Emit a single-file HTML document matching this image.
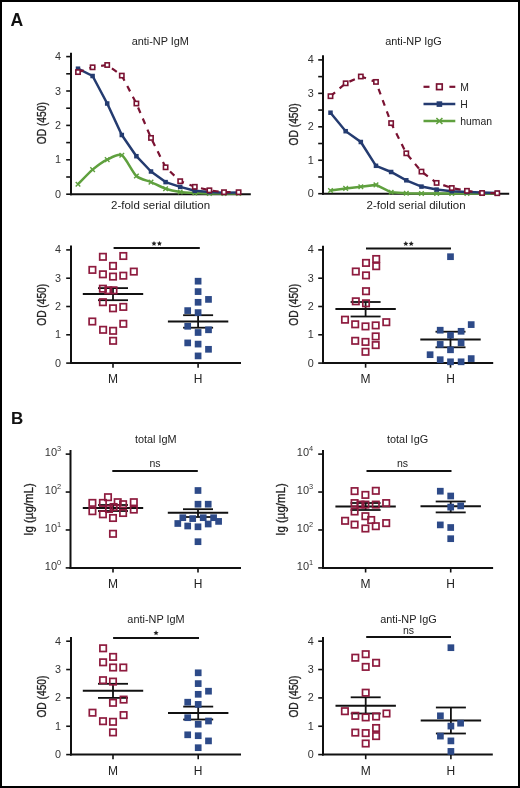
<!DOCTYPE html>
<html><head><meta charset="utf-8"><style>
html,body{margin:0;padding:0;background:#fff;}
body{width:520px;height:788px;overflow:hidden;position:relative;}
svg{display:block;filter:blur(0.35px);}
#bd{position:absolute;left:0;top:0;width:516px;height:784px;border:2px solid #000;}
text{font-family:"Liberation Sans", sans-serif;}
</style></head><body>
<svg width="520" height="788" viewBox="0 0 520 788" font-family="Liberation Sans, sans-serif">
<rect x="0" y="0" width="520" height="788" fill="#fff"/>
<text x="10.40" y="25.80" font-size="17.6" text-anchor="start" font-weight="bold" fill="#111" >A</text>
<text x="11.00" y="423.70" font-size="17" text-anchor="start" font-weight="bold" fill="#111" >B</text>
<line x1="71.00" y1="52.80" x2="71.00" y2="195.20" stroke="#111" stroke-width="2" />
<line x1="66.20" y1="194.20" x2="71.00" y2="194.20" stroke="#111" stroke-width="1.6" />
<text x="61.10" y="197.70" font-size="10.8" text-anchor="end" font-weight="normal" fill="#333" >0</text>
<line x1="66.20" y1="177.00" x2="71.00" y2="177.00" stroke="#111" stroke-width="1.6" />
<line x1="66.20" y1="159.80" x2="71.00" y2="159.80" stroke="#111" stroke-width="1.6" />
<text x="61.10" y="163.30" font-size="10.8" text-anchor="end" font-weight="normal" fill="#333" >1</text>
<line x1="66.20" y1="142.60" x2="71.00" y2="142.60" stroke="#111" stroke-width="1.6" />
<line x1="66.20" y1="125.40" x2="71.00" y2="125.40" stroke="#111" stroke-width="1.6" />
<text x="61.10" y="128.90" font-size="10.8" text-anchor="end" font-weight="normal" fill="#333" >2</text>
<line x1="66.20" y1="108.20" x2="71.00" y2="108.20" stroke="#111" stroke-width="1.6" />
<line x1="66.20" y1="91.00" x2="71.00" y2="91.00" stroke="#111" stroke-width="1.6" />
<text x="61.10" y="94.50" font-size="10.8" text-anchor="end" font-weight="normal" fill="#333" >3</text>
<line x1="66.20" y1="73.80" x2="71.00" y2="73.80" stroke="#111" stroke-width="1.6" />
<line x1="66.20" y1="56.60" x2="71.00" y2="56.60" stroke="#111" stroke-width="1.6" />
<text x="61.10" y="60.10" font-size="10.8" text-anchor="end" font-weight="normal" fill="#333" >4</text>
<line x1="70.00" y1="194.20" x2="250.80" y2="194.20" stroke="#111" stroke-width="2" />
<text x="160.30" y="45.20" font-size="10.9" text-anchor="middle" font-weight="normal" fill="#222" >anti-NP IgM</text>
<text x="160.60" y="208.70" font-size="11.5" text-anchor="middle" font-weight="normal" fill="#222" >2-fold serial dilution</text>
<text x="0" y="0" font-size="12.3" text-anchor="middle" fill="#222" stroke="#222" stroke-width="0.3" textLength="42" lengthAdjust="spacingAndGlyphs" transform="translate(45.90,123.20) rotate(-90)">OD (450)</text>
<path d="M78.00,184.20C79.70,182.50 89.19,172.47 92.60,169.60C96.01,166.73 103.79,161.28 107.20,159.60C110.61,157.92 118.39,153.29 121.80,155.20C125.21,157.11 132.99,172.86 136.40,176.00C139.81,179.14 147.59,180.61 151.00,182.10C154.41,183.59 162.19,187.65 165.60,188.80C169.01,189.96 176.79,191.51 180.20,192.00C183.61,192.49 191.39,192.84 194.80,193.00C198.21,193.16 205.99,193.34 209.40,193.40C212.81,193.46 220.59,193.49 224.00,193.50C227.41,193.51 236.90,193.50 238.60,193.50" stroke="#5FA03E" stroke-width="2.5" fill="none" stroke-linejoin="round"/>
<path d="M75.70,181.90L80.30,186.50M75.70,186.50L80.30,181.90" stroke="#5FA03E" stroke-width="1.4" fill="none"/>
<path d="M90.30,167.30L94.90,171.90M90.30,171.90L94.90,167.30" stroke="#5FA03E" stroke-width="1.4" fill="none"/>
<path d="M104.90,157.30L109.50,161.90M104.90,161.90L109.50,157.30" stroke="#5FA03E" stroke-width="1.4" fill="none"/>
<path d="M119.50,152.90L124.10,157.50M119.50,157.50L124.10,152.90" stroke="#5FA03E" stroke-width="1.4" fill="none"/>
<path d="M134.10,173.70L138.70,178.30M134.10,178.30L138.70,173.70" stroke="#5FA03E" stroke-width="1.4" fill="none"/>
<path d="M148.70,179.80L153.30,184.40M148.70,184.40L153.30,179.80" stroke="#5FA03E" stroke-width="1.4" fill="none"/>
<path d="M163.30,186.50L167.90,191.10M163.30,191.10L167.90,186.50" stroke="#5FA03E" stroke-width="1.4" fill="none"/>
<path d="M177.90,189.70L182.50,194.30M177.90,194.30L182.50,189.70" stroke="#5FA03E" stroke-width="1.4" fill="none"/>
<path d="M192.50,190.70L197.10,195.30M192.50,195.30L197.10,190.70" stroke="#5FA03E" stroke-width="1.4" fill="none"/>
<path d="M207.10,191.10L211.70,195.70M207.10,195.70L211.70,191.10" stroke="#5FA03E" stroke-width="1.4" fill="none"/>
<path d="M221.70,191.20L226.30,195.80M221.70,195.80L226.30,191.20" stroke="#5FA03E" stroke-width="1.4" fill="none"/>
<path d="M236.30,191.20L240.90,195.80M236.30,195.80L240.90,191.20" stroke="#5FA03E" stroke-width="1.4" fill="none"/>
<path d="M78.00,68.70L92.60,76.00L107.20,103.50L121.80,135.00L136.40,156.20L151.00,171.50L165.60,182.10L180.20,186.90L194.80,190.80L209.40,192.00L224.00,192.80L238.60,192.60" stroke="#243B70" stroke-width="2.5" fill="none" stroke-linejoin="round"/>
<rect x="75.75" y="66.45" width="4.50" height="4.50" fill="#243B70"/>
<rect x="90.35" y="73.75" width="4.50" height="4.50" fill="#243B70"/>
<rect x="104.95" y="101.25" width="4.50" height="4.50" fill="#243B70"/>
<rect x="119.55" y="132.75" width="4.50" height="4.50" fill="#243B70"/>
<rect x="134.15" y="153.95" width="4.50" height="4.50" fill="#243B70"/>
<rect x="148.75" y="169.25" width="4.50" height="4.50" fill="#243B70"/>
<rect x="163.35" y="179.85" width="4.50" height="4.50" fill="#243B70"/>
<rect x="177.95" y="184.65" width="4.50" height="4.50" fill="#243B70"/>
<rect x="192.55" y="188.55" width="4.50" height="4.50" fill="#243B70"/>
<rect x="207.15" y="189.75" width="4.50" height="4.50" fill="#243B70"/>
<rect x="221.75" y="190.55" width="4.50" height="4.50" fill="#243B70"/>
<rect x="236.35" y="190.35" width="4.50" height="4.50" fill="#243B70"/>
<path d="M78.00,72.10L92.60,67.30L107.20,65.00L121.80,75.60L136.40,103.50L151.00,137.90L165.60,167.30L180.20,181.20L194.80,186.80L209.40,190.30L224.00,192.20L238.60,192.20" stroke="#7A1232" stroke-width="2.2" fill="none" stroke-dasharray="6 6"/>
<rect x="75.85" y="69.95" width="4.30" height="4.30" fill="#fff" stroke="#7A1232" stroke-width="1.6"/>
<rect x="90.45" y="65.15" width="4.30" height="4.30" fill="#fff" stroke="#7A1232" stroke-width="1.6"/>
<rect x="105.05" y="62.85" width="4.30" height="4.30" fill="#fff" stroke="#7A1232" stroke-width="1.6"/>
<rect x="119.65" y="73.45" width="4.30" height="4.30" fill="#fff" stroke="#7A1232" stroke-width="1.6"/>
<rect x="134.25" y="101.35" width="4.30" height="4.30" fill="#fff" stroke="#7A1232" stroke-width="1.6"/>
<rect x="148.85" y="135.75" width="4.30" height="4.30" fill="#fff" stroke="#7A1232" stroke-width="1.6"/>
<rect x="163.45" y="165.15" width="4.30" height="4.30" fill="#fff" stroke="#7A1232" stroke-width="1.6"/>
<rect x="178.05" y="179.05" width="4.30" height="4.30" fill="#fff" stroke="#7A1232" stroke-width="1.6"/>
<rect x="192.65" y="184.65" width="4.30" height="4.30" fill="#fff" stroke="#7A1232" stroke-width="1.6"/>
<rect x="207.25" y="188.15" width="4.30" height="4.30" fill="#fff" stroke="#7A1232" stroke-width="1.6"/>
<rect x="221.85" y="190.05" width="4.30" height="4.30" fill="#fff" stroke="#7A1232" stroke-width="1.6"/>
<rect x="236.45" y="190.05" width="4.30" height="4.30" fill="#fff" stroke="#7A1232" stroke-width="1.6"/>
<line x1="323.00" y1="55.30" x2="323.00" y2="194.70" stroke="#111" stroke-width="2" />
<line x1="318.20" y1="193.70" x2="323.00" y2="193.70" stroke="#111" stroke-width="1.6" />
<text x="313.80" y="197.20" font-size="10.8" text-anchor="end" font-weight="normal" fill="#333" >0</text>
<line x1="318.20" y1="176.97" x2="323.00" y2="176.97" stroke="#111" stroke-width="1.6" />
<line x1="318.20" y1="160.25" x2="323.00" y2="160.25" stroke="#111" stroke-width="1.6" />
<text x="313.80" y="163.75" font-size="10.8" text-anchor="end" font-weight="normal" fill="#333" >1</text>
<line x1="318.20" y1="143.52" x2="323.00" y2="143.52" stroke="#111" stroke-width="1.6" />
<line x1="318.20" y1="126.80" x2="323.00" y2="126.80" stroke="#111" stroke-width="1.6" />
<text x="313.80" y="130.30" font-size="10.8" text-anchor="end" font-weight="normal" fill="#333" >2</text>
<line x1="318.20" y1="110.07" x2="323.00" y2="110.07" stroke="#111" stroke-width="1.6" />
<line x1="318.20" y1="93.35" x2="323.00" y2="93.35" stroke="#111" stroke-width="1.6" />
<text x="313.80" y="96.85" font-size="10.8" text-anchor="end" font-weight="normal" fill="#333" >3</text>
<line x1="318.20" y1="76.62" x2="323.00" y2="76.62" stroke="#111" stroke-width="1.6" />
<line x1="318.20" y1="59.90" x2="323.00" y2="59.90" stroke="#111" stroke-width="1.6" />
<text x="313.80" y="63.40" font-size="10.8" text-anchor="end" font-weight="normal" fill="#333" >4</text>
<line x1="322.00" y1="193.70" x2="509.20" y2="193.70" stroke="#111" stroke-width="2" />
<text x="413.50" y="45.20" font-size="10.9" text-anchor="middle" font-weight="normal" fill="#222" >anti-NP IgG</text>
<text x="416.10" y="208.70" font-size="11.5" text-anchor="middle" font-weight="normal" fill="#222" >2-fold serial dilution</text>
<text x="0" y="0" font-size="12.3" text-anchor="middle" fill="#222" stroke="#222" stroke-width="0.3" textLength="42" lengthAdjust="spacingAndGlyphs" transform="translate(297.60,124.40) rotate(-90)">OD (450)</text>
<path d="M330.50,190.50L345.66,188.40L360.82,186.80L375.98,184.90L391.14,192.30L406.30,193.30L421.46,193.50L436.62,193.50L451.78,193.50L466.94,193.50L482.10,193.50L497.26,193.50" stroke="#5FA03E" stroke-width="2.5" fill="none"/>
<path d="M328.20,188.20L332.80,192.80M328.20,192.80L332.80,188.20" stroke="#5FA03E" stroke-width="1.4" fill="none"/>
<path d="M343.36,186.10L347.96,190.70M343.36,190.70L347.96,186.10" stroke="#5FA03E" stroke-width="1.4" fill="none"/>
<path d="M358.52,184.50L363.12,189.10M358.52,189.10L363.12,184.50" stroke="#5FA03E" stroke-width="1.4" fill="none"/>
<path d="M373.68,182.60L378.28,187.20M373.68,187.20L378.28,182.60" stroke="#5FA03E" stroke-width="1.4" fill="none"/>
<path d="M388.84,190.00L393.44,194.60M388.84,194.60L393.44,190.00" stroke="#5FA03E" stroke-width="1.4" fill="none"/>
<path d="M404.00,191.00L408.60,195.60M404.00,195.60L408.60,191.00" stroke="#5FA03E" stroke-width="1.4" fill="none"/>
<path d="M419.16,191.20L423.76,195.80M419.16,195.80L423.76,191.20" stroke="#5FA03E" stroke-width="1.4" fill="none"/>
<path d="M434.32,191.20L438.92,195.80M434.32,195.80L438.92,191.20" stroke="#5FA03E" stroke-width="1.4" fill="none"/>
<path d="M449.48,191.20L454.08,195.80M449.48,195.80L454.08,191.20" stroke="#5FA03E" stroke-width="1.4" fill="none"/>
<path d="M464.64,191.20L469.24,195.80M464.64,195.80L469.24,191.20" stroke="#5FA03E" stroke-width="1.4" fill="none"/>
<path d="M479.80,191.20L484.40,195.80M479.80,195.80L484.40,191.20" stroke="#5FA03E" stroke-width="1.4" fill="none"/>
<path d="M494.96,191.20L499.56,195.80M494.96,195.80L499.56,191.20" stroke="#5FA03E" stroke-width="1.4" fill="none"/>
<path d="M330.50,112.70L345.66,131.20L360.82,142.00L375.98,165.80L391.14,172.00L406.30,180.30L421.46,186.60L436.62,189.60L451.78,191.20L466.94,192.00L482.10,192.50L497.26,192.90" stroke="#243B70" stroke-width="2.5" fill="none"/>
<rect x="328.25" y="110.45" width="4.50" height="4.50" fill="#243B70"/>
<rect x="343.41" y="128.95" width="4.50" height="4.50" fill="#243B70"/>
<rect x="358.57" y="139.75" width="4.50" height="4.50" fill="#243B70"/>
<rect x="373.73" y="163.55" width="4.50" height="4.50" fill="#243B70"/>
<rect x="388.89" y="169.75" width="4.50" height="4.50" fill="#243B70"/>
<rect x="404.05" y="178.05" width="4.50" height="4.50" fill="#243B70"/>
<rect x="419.21" y="184.35" width="4.50" height="4.50" fill="#243B70"/>
<rect x="434.37" y="187.35" width="4.50" height="4.50" fill="#243B70"/>
<rect x="449.53" y="188.95" width="4.50" height="4.50" fill="#243B70"/>
<rect x="464.69" y="189.75" width="4.50" height="4.50" fill="#243B70"/>
<rect x="479.85" y="190.25" width="4.50" height="4.50" fill="#243B70"/>
<rect x="495.01" y="190.65" width="4.50" height="4.50" fill="#243B70"/>
<path d="M330.50,96.20L345.66,83.30L360.82,76.50L375.98,81.90L391.14,123.10L406.30,153.30L421.46,171.60L436.62,182.90L451.78,188.00L466.94,190.80L482.10,193.00L497.26,193.20" stroke="#7A1232" stroke-width="2.2" fill="none" stroke-dasharray="6 6"/>
<rect x="328.35" y="94.05" width="4.30" height="4.30" fill="#fff" stroke="#7A1232" stroke-width="1.6"/>
<rect x="343.51" y="81.15" width="4.30" height="4.30" fill="#fff" stroke="#7A1232" stroke-width="1.6"/>
<rect x="358.67" y="74.35" width="4.30" height="4.30" fill="#fff" stroke="#7A1232" stroke-width="1.6"/>
<rect x="373.83" y="79.75" width="4.30" height="4.30" fill="#fff" stroke="#7A1232" stroke-width="1.6"/>
<rect x="388.99" y="120.95" width="4.30" height="4.30" fill="#fff" stroke="#7A1232" stroke-width="1.6"/>
<rect x="404.15" y="151.15" width="4.30" height="4.30" fill="#fff" stroke="#7A1232" stroke-width="1.6"/>
<rect x="419.31" y="169.45" width="4.30" height="4.30" fill="#fff" stroke="#7A1232" stroke-width="1.6"/>
<rect x="434.47" y="180.75" width="4.30" height="4.30" fill="#fff" stroke="#7A1232" stroke-width="1.6"/>
<rect x="449.63" y="185.85" width="4.30" height="4.30" fill="#fff" stroke="#7A1232" stroke-width="1.6"/>
<rect x="464.79" y="188.65" width="4.30" height="4.30" fill="#fff" stroke="#7A1232" stroke-width="1.6"/>
<rect x="479.95" y="190.85" width="4.30" height="4.30" fill="#fff" stroke="#7A1232" stroke-width="1.6"/>
<rect x="495.11" y="191.05" width="4.30" height="4.30" fill="#fff" stroke="#7A1232" stroke-width="1.6"/>
<line x1="423.50" y1="86.80" x2="429.50" y2="86.80" stroke="#7A1232" stroke-width="2.2" />
<line x1="449.40" y1="86.80" x2="455.30" y2="86.80" stroke="#7A1232" stroke-width="2.2" />
<rect x="436.60" y="84.00" width="5.60" height="5.60" fill="#fff" stroke="#7A1232" stroke-width="1.7"/>
<text x="460.20" y="90.60" font-size="10.4" text-anchor="start" font-weight="normal" fill="#222" >M</text>
<line x1="423.50" y1="104.10" x2="455.30" y2="104.10" stroke="#243B70" stroke-width="2.5" />
<rect x="436.60" y="101.30" width="5.60" height="5.60" fill="#243B70"/>
<text x="460.20" y="108.00" font-size="10.4" text-anchor="start" font-weight="normal" fill="#222" >H</text>
<line x1="423.50" y1="121.00" x2="455.30" y2="121.00" stroke="#5FA03E" stroke-width="2.5" />
<path d="M436.40,118.00L442.40,124.00M436.40,124.00L442.40,118.00" stroke="#5FA03E" stroke-width="1.6" fill="none"/>
<text x="460.20" y="124.80" font-size="10.4" text-anchor="start" font-weight="normal" fill="#222" >human</text>
<line x1="71.00" y1="245.50" x2="71.00" y2="364.10" stroke="#111" stroke-width="2" />
<line x1="66.20" y1="363.10" x2="71.00" y2="363.10" stroke="#111" stroke-width="1.6" />
<text x="61.10" y="366.60" font-size="10.8" text-anchor="end" font-weight="normal" fill="#333" >0</text>
<line x1="66.20" y1="334.80" x2="71.00" y2="334.80" stroke="#111" stroke-width="1.6" />
<text x="61.10" y="338.30" font-size="10.8" text-anchor="end" font-weight="normal" fill="#333" >1</text>
<line x1="66.20" y1="306.50" x2="71.00" y2="306.50" stroke="#111" stroke-width="1.6" />
<text x="61.10" y="310.00" font-size="10.8" text-anchor="end" font-weight="normal" fill="#333" >2</text>
<line x1="66.20" y1="278.20" x2="71.00" y2="278.20" stroke="#111" stroke-width="1.6" />
<text x="61.10" y="281.70" font-size="10.8" text-anchor="end" font-weight="normal" fill="#333" >3</text>
<line x1="66.20" y1="249.90" x2="71.00" y2="249.90" stroke="#111" stroke-width="1.6" />
<text x="61.10" y="253.40" font-size="10.8" text-anchor="end" font-weight="normal" fill="#333" >4</text>
<line x1="70.00" y1="363.10" x2="241.00" y2="363.10" stroke="#111" stroke-width="2" />
<line x1="113.00" y1="363.10" x2="113.00" y2="367.70" stroke="#111" stroke-width="1.6" />
<line x1="198.10" y1="363.10" x2="198.10" y2="367.70" stroke="#111" stroke-width="1.6" />
<text x="113.00" y="383.30" font-size="12" text-anchor="middle" font-weight="normal" fill="#222" >M</text>
<text x="198.10" y="383.30" font-size="12" text-anchor="middle" font-weight="normal" fill="#222" >H</text>
<text x="0.00" y="0.00" font-size="10.9" text-anchor="middle" font-weight="normal" fill="#222" >None</text>
<line x1="113.60" y1="248.10" x2="199.80" y2="248.10" stroke="#111" stroke-width="2" />
<polygon points="154.00,240.90 154.76,242.55 156.57,242.77 155.23,244.00 155.59,245.78 154.00,244.90 152.41,245.78 152.77,244.00 151.43,242.77 153.24,242.55" fill="#222"/>
<polygon points="159.40,240.90 160.16,242.55 161.97,242.77 160.63,244.00 160.99,245.78 159.40,244.90 157.81,245.78 158.17,244.00 156.83,242.77 158.64,242.55" fill="#222"/>
<text x="0" y="0" font-size="12.3" text-anchor="middle" fill="#222" stroke="#222" stroke-width="0.3" textLength="42" lengthAdjust="spacingAndGlyphs" transform="translate(45.90,304.80) rotate(-90)">OD (450)</text>
<line x1="82.80" y1="294.10" x2="143.20" y2="294.10" stroke="#111" stroke-width="2" />
<line x1="98.00" y1="288.10" x2="128.00" y2="288.10" stroke="#111" stroke-width="1.8" />
<line x1="98.00" y1="300.20" x2="128.00" y2="300.20" stroke="#111" stroke-width="1.8" />
<line x1="113.00" y1="288.10" x2="113.00" y2="300.20" stroke="#111" stroke-width="1.8" />
<line x1="167.90" y1="321.60" x2="228.30" y2="321.60" stroke="#111" stroke-width="2" />
<line x1="183.10" y1="315.20" x2="213.10" y2="315.20" stroke="#111" stroke-width="1.8" />
<line x1="183.10" y1="327.70" x2="213.10" y2="327.70" stroke="#111" stroke-width="1.8" />
<line x1="198.10" y1="315.20" x2="198.10" y2="327.70" stroke="#111" stroke-width="1.8" />
<rect x="99.70" y="253.60" width="6.40" height="6.40" fill="#fff" fill-opacity="0" stroke="#8E1B3E" stroke-width="1.7"/>
<rect x="120.10" y="252.80" width="6.40" height="6.40" fill="#fff" fill-opacity="0" stroke="#8E1B3E" stroke-width="1.7"/>
<rect x="109.80" y="262.70" width="6.40" height="6.40" fill="#fff" fill-opacity="0" stroke="#8E1B3E" stroke-width="1.7"/>
<rect x="89.20" y="266.70" width="6.40" height="6.40" fill="#fff" fill-opacity="0" stroke="#8E1B3E" stroke-width="1.7"/>
<rect x="99.70" y="271.10" width="6.40" height="6.40" fill="#fff" fill-opacity="0" stroke="#8E1B3E" stroke-width="1.7"/>
<rect x="109.80" y="273.40" width="6.40" height="6.40" fill="#fff" fill-opacity="0" stroke="#8E1B3E" stroke-width="1.7"/>
<rect x="120.10" y="272.50" width="6.40" height="6.40" fill="#fff" fill-opacity="0" stroke="#8E1B3E" stroke-width="1.7"/>
<rect x="130.60" y="268.40" width="6.40" height="6.40" fill="#fff" fill-opacity="0" stroke="#8E1B3E" stroke-width="1.7"/>
<rect x="99.70" y="285.50" width="6.40" height="6.40" fill="#fff" fill-opacity="0" stroke="#8E1B3E" stroke-width="1.7"/>
<rect x="105.10" y="287.10" width="6.40" height="6.40" fill="#fff" fill-opacity="0" stroke="#8E1B3E" stroke-width="1.7"/>
<rect x="110.30" y="287.10" width="6.40" height="6.40" fill="#fff" fill-opacity="0" stroke="#8E1B3E" stroke-width="1.7"/>
<rect x="99.70" y="299.00" width="6.40" height="6.40" fill="#fff" fill-opacity="0" stroke="#8E1B3E" stroke-width="1.7"/>
<rect x="109.80" y="305.10" width="6.40" height="6.40" fill="#fff" fill-opacity="0" stroke="#8E1B3E" stroke-width="1.7"/>
<rect x="120.10" y="303.70" width="6.40" height="6.40" fill="#fff" fill-opacity="0" stroke="#8E1B3E" stroke-width="1.7"/>
<rect x="89.10" y="318.30" width="6.40" height="6.40" fill="#fff" fill-opacity="0" stroke="#8E1B3E" stroke-width="1.7"/>
<rect x="99.90" y="326.60" width="6.40" height="6.40" fill="#fff" fill-opacity="0" stroke="#8E1B3E" stroke-width="1.7"/>
<rect x="109.90" y="327.60" width="6.40" height="6.40" fill="#fff" fill-opacity="0" stroke="#8E1B3E" stroke-width="1.7"/>
<rect x="120.10" y="320.60" width="6.40" height="6.40" fill="#fff" fill-opacity="0" stroke="#8E1B3E" stroke-width="1.7"/>
<rect x="109.90" y="337.60" width="6.40" height="6.40" fill="#fff" fill-opacity="0" stroke="#8E1B3E" stroke-width="1.7"/>
<rect x="194.75" y="277.85" width="6.70" height="6.70" fill="#2D4A88"/>
<rect x="194.75" y="288.25" width="6.70" height="6.70" fill="#2D4A88"/>
<rect x="194.75" y="298.95" width="6.70" height="6.70" fill="#2D4A88"/>
<rect x="205.15" y="296.05" width="6.70" height="6.70" fill="#2D4A88"/>
<rect x="184.35" y="307.25" width="6.70" height="6.70" fill="#2D4A88"/>
<rect x="194.75" y="309.25" width="6.70" height="6.70" fill="#2D4A88"/>
<rect x="184.35" y="322.95" width="6.70" height="6.70" fill="#2D4A88"/>
<rect x="194.75" y="329.15" width="6.70" height="6.70" fill="#2D4A88"/>
<rect x="205.15" y="326.45" width="6.70" height="6.70" fill="#2D4A88"/>
<rect x="184.35" y="339.55" width="6.70" height="6.70" fill="#2D4A88"/>
<rect x="194.75" y="340.75" width="6.70" height="6.70" fill="#2D4A88"/>
<rect x="205.15" y="345.95" width="6.70" height="6.70" fill="#2D4A88"/>
<rect x="194.75" y="352.55" width="6.70" height="6.70" fill="#2D4A88"/>
<line x1="323.00" y1="245.80" x2="323.00" y2="364.10" stroke="#111" stroke-width="2" />
<line x1="318.20" y1="363.10" x2="323.00" y2="363.10" stroke="#111" stroke-width="1.6" />
<text x="313.80" y="366.60" font-size="10.8" text-anchor="end" font-weight="normal" fill="#333" >0</text>
<line x1="318.20" y1="334.80" x2="323.00" y2="334.80" stroke="#111" stroke-width="1.6" />
<text x="313.80" y="338.30" font-size="10.8" text-anchor="end" font-weight="normal" fill="#333" >1</text>
<line x1="318.20" y1="306.50" x2="323.00" y2="306.50" stroke="#111" stroke-width="1.6" />
<text x="313.80" y="310.00" font-size="10.8" text-anchor="end" font-weight="normal" fill="#333" >2</text>
<line x1="318.20" y1="278.20" x2="323.00" y2="278.20" stroke="#111" stroke-width="1.6" />
<text x="313.80" y="281.70" font-size="10.8" text-anchor="end" font-weight="normal" fill="#333" >3</text>
<line x1="318.20" y1="249.90" x2="323.00" y2="249.90" stroke="#111" stroke-width="1.6" />
<text x="313.80" y="253.40" font-size="10.8" text-anchor="end" font-weight="normal" fill="#333" >4</text>
<line x1="322.00" y1="363.10" x2="493.20" y2="363.10" stroke="#111" stroke-width="2" />
<line x1="365.60" y1="363.10" x2="365.60" y2="367.70" stroke="#111" stroke-width="1.6" />
<line x1="450.50" y1="363.10" x2="450.50" y2="367.70" stroke="#111" stroke-width="1.6" />
<text x="365.60" y="383.30" font-size="12" text-anchor="middle" font-weight="normal" fill="#222" >M</text>
<text x="450.50" y="383.30" font-size="12" text-anchor="middle" font-weight="normal" fill="#222" >H</text>
<text x="0.00" y="0.00" font-size="10.9" text-anchor="middle" font-weight="normal" fill="#222" >None</text>
<line x1="366.00" y1="248.50" x2="451.00" y2="248.50" stroke="#111" stroke-width="2" />
<polygon points="405.80,241.10 406.56,242.75 408.37,242.97 407.03,244.20 407.39,245.98 405.80,245.10 404.21,245.98 404.57,244.20 403.23,242.97 405.04,242.75" fill="#222"/>
<polygon points="411.20,241.10 411.96,242.75 413.77,242.97 412.43,244.20 412.79,245.98 411.20,245.10 409.61,245.98 409.97,244.20 408.63,242.97 410.44,242.75" fill="#222"/>
<text x="0" y="0" font-size="12.3" text-anchor="middle" fill="#222" stroke="#222" stroke-width="0.3" textLength="42" lengthAdjust="spacingAndGlyphs" transform="translate(297.60,304.80) rotate(-90)">OD (450)</text>
<line x1="335.40" y1="309.10" x2="395.80" y2="309.10" stroke="#111" stroke-width="2" />
<line x1="350.60" y1="302.00" x2="380.60" y2="302.00" stroke="#111" stroke-width="1.8" />
<line x1="350.60" y1="316.50" x2="380.60" y2="316.50" stroke="#111" stroke-width="1.8" />
<line x1="365.60" y1="302.00" x2="365.60" y2="316.50" stroke="#111" stroke-width="1.8" />
<line x1="420.30" y1="339.60" x2="480.70" y2="339.60" stroke="#111" stroke-width="2" />
<line x1="435.50" y1="331.70" x2="465.50" y2="331.70" stroke="#111" stroke-width="1.8" />
<line x1="435.50" y1="347.30" x2="465.50" y2="347.30" stroke="#111" stroke-width="1.8" />
<line x1="450.50" y1="331.70" x2="450.50" y2="347.30" stroke="#111" stroke-width="1.8" />
<rect x="352.60" y="268.30" width="6.40" height="6.40" fill="#fff" fill-opacity="0" stroke="#8E1B3E" stroke-width="1.7"/>
<rect x="362.80" y="259.70" width="6.40" height="6.40" fill="#fff" fill-opacity="0" stroke="#8E1B3E" stroke-width="1.7"/>
<rect x="373.00" y="255.80" width="6.40" height="6.40" fill="#fff" fill-opacity="0" stroke="#8E1B3E" stroke-width="1.7"/>
<rect x="373.00" y="263.00" width="6.40" height="6.40" fill="#fff" fill-opacity="0" stroke="#8E1B3E" stroke-width="1.7"/>
<rect x="362.80" y="272.20" width="6.40" height="6.40" fill="#fff" fill-opacity="0" stroke="#8E1B3E" stroke-width="1.7"/>
<rect x="362.80" y="288.00" width="6.40" height="6.40" fill="#fff" fill-opacity="0" stroke="#8E1B3E" stroke-width="1.7"/>
<rect x="352.60" y="298.10" width="6.40" height="6.40" fill="#fff" fill-opacity="0" stroke="#8E1B3E" stroke-width="1.7"/>
<rect x="362.80" y="300.10" width="6.40" height="6.40" fill="#fff" fill-opacity="0" stroke="#8E1B3E" stroke-width="1.7"/>
<rect x="341.80" y="316.50" width="6.40" height="6.40" fill="#fff" fill-opacity="0" stroke="#8E1B3E" stroke-width="1.7"/>
<rect x="352.00" y="321.10" width="6.40" height="6.40" fill="#fff" fill-opacity="0" stroke="#8E1B3E" stroke-width="1.7"/>
<rect x="362.30" y="323.20" width="6.40" height="6.40" fill="#fff" fill-opacity="0" stroke="#8E1B3E" stroke-width="1.7"/>
<rect x="372.50" y="322.20" width="6.40" height="6.40" fill="#fff" fill-opacity="0" stroke="#8E1B3E" stroke-width="1.7"/>
<rect x="383.10" y="319.00" width="6.40" height="6.40" fill="#fff" fill-opacity="0" stroke="#8E1B3E" stroke-width="1.7"/>
<rect x="372.50" y="333.20" width="6.40" height="6.40" fill="#fff" fill-opacity="0" stroke="#8E1B3E" stroke-width="1.7"/>
<rect x="352.00" y="337.60" width="6.40" height="6.40" fill="#fff" fill-opacity="0" stroke="#8E1B3E" stroke-width="1.7"/>
<rect x="362.30" y="338.70" width="6.40" height="6.40" fill="#fff" fill-opacity="0" stroke="#8E1B3E" stroke-width="1.7"/>
<rect x="372.50" y="341.90" width="6.40" height="6.40" fill="#fff" fill-opacity="0" stroke="#8E1B3E" stroke-width="1.7"/>
<rect x="362.30" y="348.60" width="6.40" height="6.40" fill="#fff" fill-opacity="0" stroke="#8E1B3E" stroke-width="1.7"/>
<rect x="447.15" y="253.35" width="6.70" height="6.70" fill="#2D4A88"/>
<rect x="467.85" y="321.25" width="6.70" height="6.70" fill="#2D4A88"/>
<rect x="436.85" y="326.85" width="6.70" height="6.70" fill="#2D4A88"/>
<rect x="457.75" y="327.95" width="6.70" height="6.70" fill="#2D4A88"/>
<rect x="447.15" y="331.85" width="6.70" height="6.70" fill="#2D4A88"/>
<rect x="436.85" y="341.05" width="6.70" height="6.70" fill="#2D4A88"/>
<rect x="457.75" y="339.35" width="6.70" height="6.70" fill="#2D4A88"/>
<rect x="447.15" y="346.45" width="6.70" height="6.70" fill="#2D4A88"/>
<rect x="426.75" y="351.35" width="6.70" height="6.70" fill="#2D4A88"/>
<rect x="436.85" y="356.35" width="6.70" height="6.70" fill="#2D4A88"/>
<rect x="447.15" y="358.45" width="6.70" height="6.70" fill="#2D4A88"/>
<rect x="457.75" y="358.45" width="6.70" height="6.70" fill="#2D4A88"/>
<rect x="467.85" y="355.25" width="6.70" height="6.70" fill="#2D4A88"/>
<line x1="70.50" y1="450.00" x2="70.50" y2="568.90" stroke="#111" stroke-width="2" />
<line x1="65.70" y1="567.90" x2="70.50" y2="567.90" stroke="#111" stroke-width="1.6" />
<text x="61.20" y="569.70" font-size="11" text-anchor="end" fill="#333">10<tspan font-size="7.4" dy="-4.6">0</tspan></text>
<line x1="65.70" y1="529.97" x2="70.50" y2="529.97" stroke="#111" stroke-width="1.6" />
<text x="61.20" y="531.77" font-size="11" text-anchor="end" fill="#333">10<tspan font-size="7.4" dy="-4.6">1</tspan></text>
<line x1="65.70" y1="492.04" x2="70.50" y2="492.04" stroke="#111" stroke-width="1.6" />
<text x="61.20" y="493.84" font-size="11" text-anchor="end" fill="#333">10<tspan font-size="7.4" dy="-4.6">2</tspan></text>
<line x1="65.70" y1="454.11" x2="70.50" y2="454.11" stroke="#111" stroke-width="1.6" />
<text x="61.20" y="455.91" font-size="11" text-anchor="end" fill="#333">10<tspan font-size="7.4" dy="-4.6">3</tspan></text>
<line x1="69.50" y1="567.90" x2="241.00" y2="567.90" stroke="#111" stroke-width="2" />
<line x1="113.00" y1="567.90" x2="113.00" y2="572.50" stroke="#111" stroke-width="1.6" />
<line x1="198.00" y1="567.90" x2="198.00" y2="572.50" stroke="#111" stroke-width="1.6" />
<text x="113.00" y="588.10" font-size="12" text-anchor="middle" font-weight="normal" fill="#222" >M</text>
<text x="198.00" y="588.10" font-size="12" text-anchor="middle" font-weight="normal" fill="#222" >H</text>
<text x="155.80" y="442.70" font-size="10.9" text-anchor="middle" font-weight="normal" fill="#222" >total IgM</text>
<line x1="112.30" y1="470.90" x2="197.80" y2="470.90" stroke="#111" stroke-width="2" />
<text x="155.05" y="466.90" font-size="10.5" text-anchor="middle" font-weight="normal" fill="#222" >ns</text>
<text x="0" y="0" font-size="12.3" text-anchor="middle" fill="#222" stroke="#222" stroke-width="0.3" textLength="52.5" lengthAdjust="spacingAndGlyphs" transform="translate(32.80,509.50) rotate(-90)">Ig (µg/mL)</text>
<line x1="82.80" y1="508.00" x2="143.20" y2="508.00" stroke="#111" stroke-width="2" />
<line x1="98.00" y1="505.00" x2="128.00" y2="505.00" stroke="#111" stroke-width="1.8" />
<line x1="98.00" y1="511.00" x2="128.00" y2="511.00" stroke="#111" stroke-width="1.8" />
<line x1="113.00" y1="505.00" x2="113.00" y2="511.00" stroke="#111" stroke-width="1.8" />
<line x1="167.80" y1="512.80" x2="228.20" y2="512.80" stroke="#111" stroke-width="2" />
<line x1="183.00" y1="509.20" x2="213.00" y2="509.20" stroke="#111" stroke-width="1.8" />
<line x1="183.00" y1="517.00" x2="213.00" y2="517.00" stroke="#111" stroke-width="1.8" />
<line x1="198.00" y1="509.20" x2="198.00" y2="517.00" stroke="#111" stroke-width="1.8" />
<rect x="89.20" y="499.70" width="6.40" height="6.40" fill="#fff" fill-opacity="0" stroke="#8E1B3E" stroke-width="1.7"/>
<rect x="89.20" y="508.00" width="6.40" height="6.40" fill="#fff" fill-opacity="0" stroke="#8E1B3E" stroke-width="1.7"/>
<rect x="99.70" y="499.70" width="6.40" height="6.40" fill="#fff" fill-opacity="0" stroke="#8E1B3E" stroke-width="1.7"/>
<rect x="99.70" y="511.10" width="6.40" height="6.40" fill="#fff" fill-opacity="0" stroke="#8E1B3E" stroke-width="1.7"/>
<rect x="104.80" y="494.00" width="6.40" height="6.40" fill="#fff" fill-opacity="0" stroke="#8E1B3E" stroke-width="1.7"/>
<rect x="109.80" y="514.80" width="6.40" height="6.40" fill="#fff" fill-opacity="0" stroke="#8E1B3E" stroke-width="1.7"/>
<rect x="109.80" y="530.60" width="6.40" height="6.40" fill="#fff" fill-opacity="0" stroke="#8E1B3E" stroke-width="1.7"/>
<rect x="114.50" y="499.00" width="6.40" height="6.40" fill="#fff" fill-opacity="0" stroke="#8E1B3E" stroke-width="1.7"/>
<rect x="119.90" y="501.00" width="6.40" height="6.40" fill="#fff" fill-opacity="0" stroke="#8E1B3E" stroke-width="1.7"/>
<rect x="119.90" y="509.80" width="6.40" height="6.40" fill="#fff" fill-opacity="0" stroke="#8E1B3E" stroke-width="1.7"/>
<rect x="130.60" y="499.00" width="6.40" height="6.40" fill="#fff" fill-opacity="0" stroke="#8E1B3E" stroke-width="1.7"/>
<rect x="130.60" y="506.40" width="6.40" height="6.40" fill="#fff" fill-opacity="0" stroke="#8E1B3E" stroke-width="1.7"/>
<rect x="105.80" y="505.80" width="6.40" height="6.40" fill="#fff" fill-opacity="0" stroke="#8E1B3E" stroke-width="1.7"/>
<rect x="110.40" y="503.80" width="6.40" height="6.40" fill="#fff" fill-opacity="0" stroke="#8E1B3E" stroke-width="1.7"/>
<rect x="194.65" y="487.15" width="6.70" height="6.70" fill="#2D4A88"/>
<rect x="194.65" y="500.85" width="6.70" height="6.70" fill="#2D4A88"/>
<rect x="204.85" y="500.85" width="6.70" height="6.70" fill="#2D4A88"/>
<rect x="179.45" y="514.35" width="6.70" height="6.70" fill="#2D4A88"/>
<rect x="189.35" y="515.25" width="6.70" height="6.70" fill="#2D4A88"/>
<rect x="199.85" y="514.35" width="6.70" height="6.70" fill="#2D4A88"/>
<rect x="210.25" y="514.35" width="6.70" height="6.70" fill="#2D4A88"/>
<rect x="174.45" y="520.15" width="6.70" height="6.70" fill="#2D4A88"/>
<rect x="184.35" y="522.65" width="6.70" height="6.70" fill="#2D4A88"/>
<rect x="194.65" y="523.45" width="6.70" height="6.70" fill="#2D4A88"/>
<rect x="204.85" y="520.65" width="6.70" height="6.70" fill="#2D4A88"/>
<rect x="215.25" y="518.05" width="6.70" height="6.70" fill="#2D4A88"/>
<rect x="194.65" y="538.35" width="6.70" height="6.70" fill="#2D4A88"/>
<line x1="323.00" y1="450.00" x2="323.00" y2="568.90" stroke="#111" stroke-width="2" />
<line x1="318.20" y1="567.90" x2="323.00" y2="567.90" stroke="#111" stroke-width="1.6" />
<text x="313.20" y="569.70" font-size="11" text-anchor="end" fill="#333">10<tspan font-size="7.4" dy="-4.6">1</tspan></text>
<line x1="318.20" y1="529.97" x2="323.00" y2="529.97" stroke="#111" stroke-width="1.6" />
<text x="313.20" y="531.77" font-size="11" text-anchor="end" fill="#333">10<tspan font-size="7.4" dy="-4.6">2</tspan></text>
<line x1="318.20" y1="492.04" x2="323.00" y2="492.04" stroke="#111" stroke-width="1.6" />
<text x="313.20" y="493.84" font-size="11" text-anchor="end" fill="#333">10<tspan font-size="7.4" dy="-4.6">3</tspan></text>
<line x1="318.20" y1="454.11" x2="323.00" y2="454.11" stroke="#111" stroke-width="1.6" />
<text x="313.20" y="455.91" font-size="11" text-anchor="end" fill="#333">10<tspan font-size="7.4" dy="-4.6">4</tspan></text>
<line x1="322.00" y1="567.90" x2="493.10" y2="567.90" stroke="#111" stroke-width="2" />
<line x1="365.60" y1="567.90" x2="365.60" y2="572.50" stroke="#111" stroke-width="1.6" />
<line x1="450.70" y1="567.90" x2="450.70" y2="572.50" stroke="#111" stroke-width="1.6" />
<text x="365.60" y="588.10" font-size="12" text-anchor="middle" font-weight="normal" fill="#222" >M</text>
<text x="450.70" y="588.10" font-size="12" text-anchor="middle" font-weight="normal" fill="#222" >H</text>
<text x="407.60" y="442.70" font-size="10.9" text-anchor="middle" font-weight="normal" fill="#222" >total IgG</text>
<line x1="366.50" y1="470.90" x2="451.50" y2="470.90" stroke="#111" stroke-width="2" />
<text x="402.50" y="466.90" font-size="10.5" text-anchor="middle" font-weight="normal" fill="#222" >ns</text>
<text x="0" y="0" font-size="12.3" text-anchor="middle" fill="#222" stroke="#222" stroke-width="0.3" textLength="52.5" lengthAdjust="spacingAndGlyphs" transform="translate(284.80,509.50) rotate(-90)">Ig (µg/mL)</text>
<line x1="335.40" y1="506.60" x2="395.80" y2="506.60" stroke="#111" stroke-width="2" />
<line x1="350.60" y1="503.00" x2="380.60" y2="503.00" stroke="#111" stroke-width="1.8" />
<line x1="350.60" y1="510.00" x2="380.60" y2="510.00" stroke="#111" stroke-width="1.8" />
<line x1="365.60" y1="503.00" x2="365.60" y2="510.00" stroke="#111" stroke-width="1.8" />
<line x1="420.50" y1="506.20" x2="480.90" y2="506.20" stroke="#111" stroke-width="2" />
<line x1="435.70" y1="501.50" x2="465.70" y2="501.50" stroke="#111" stroke-width="1.8" />
<line x1="435.70" y1="512.40" x2="465.70" y2="512.40" stroke="#111" stroke-width="1.8" />
<line x1="450.70" y1="501.50" x2="450.70" y2="512.40" stroke="#111" stroke-width="1.8" />
<rect x="351.40" y="487.90" width="6.40" height="6.40" fill="#fff" fill-opacity="0" stroke="#8E1B3E" stroke-width="1.7"/>
<rect x="362.20" y="491.70" width="6.40" height="6.40" fill="#fff" fill-opacity="0" stroke="#8E1B3E" stroke-width="1.7"/>
<rect x="372.60" y="487.60" width="6.40" height="6.40" fill="#fff" fill-opacity="0" stroke="#8E1B3E" stroke-width="1.7"/>
<rect x="383.00" y="499.90" width="6.40" height="6.40" fill="#fff" fill-opacity="0" stroke="#8E1B3E" stroke-width="1.7"/>
<rect x="351.40" y="499.90" width="6.40" height="6.40" fill="#fff" fill-opacity="0" stroke="#8E1B3E" stroke-width="1.7"/>
<rect x="357.30" y="501.40" width="6.40" height="6.40" fill="#fff" fill-opacity="0" stroke="#8E1B3E" stroke-width="1.7"/>
<rect x="362.20" y="501.40" width="6.40" height="6.40" fill="#fff" fill-opacity="0" stroke="#8E1B3E" stroke-width="1.7"/>
<rect x="372.60" y="501.40" width="6.40" height="6.40" fill="#fff" fill-opacity="0" stroke="#8E1B3E" stroke-width="1.7"/>
<rect x="351.40" y="508.30" width="6.40" height="6.40" fill="#fff" fill-opacity="0" stroke="#8E1B3E" stroke-width="1.7"/>
<rect x="362.20" y="513.00" width="6.40" height="6.40" fill="#fff" fill-opacity="0" stroke="#8E1B3E" stroke-width="1.7"/>
<rect x="368.00" y="516.80" width="6.40" height="6.40" fill="#fff" fill-opacity="0" stroke="#8E1B3E" stroke-width="1.7"/>
<rect x="341.90" y="517.60" width="6.40" height="6.40" fill="#fff" fill-opacity="0" stroke="#8E1B3E" stroke-width="1.7"/>
<rect x="351.40" y="521.40" width="6.40" height="6.40" fill="#fff" fill-opacity="0" stroke="#8E1B3E" stroke-width="1.7"/>
<rect x="362.20" y="525.30" width="6.40" height="6.40" fill="#fff" fill-opacity="0" stroke="#8E1B3E" stroke-width="1.7"/>
<rect x="372.60" y="523.00" width="6.40" height="6.40" fill="#fff" fill-opacity="0" stroke="#8E1B3E" stroke-width="1.7"/>
<rect x="383.00" y="519.90" width="6.40" height="6.40" fill="#fff" fill-opacity="0" stroke="#8E1B3E" stroke-width="1.7"/>
<rect x="436.95" y="487.85" width="6.70" height="6.70" fill="#2D4A88"/>
<rect x="447.35" y="492.65" width="6.70" height="6.70" fill="#2D4A88"/>
<rect x="447.35" y="503.75" width="6.70" height="6.70" fill="#2D4A88"/>
<rect x="457.35" y="502.55" width="6.70" height="6.70" fill="#2D4A88"/>
<rect x="436.95" y="521.55" width="6.70" height="6.70" fill="#2D4A88"/>
<rect x="447.35" y="524.15" width="6.70" height="6.70" fill="#2D4A88"/>
<rect x="447.35" y="535.35" width="6.70" height="6.70" fill="#2D4A88"/>
<line x1="71.00" y1="636.90" x2="71.00" y2="755.60" stroke="#111" stroke-width="2" />
<line x1="66.20" y1="754.60" x2="71.00" y2="754.60" stroke="#111" stroke-width="1.6" />
<text x="61.10" y="758.10" font-size="10.8" text-anchor="end" font-weight="normal" fill="#333" >0</text>
<line x1="66.20" y1="726.25" x2="71.00" y2="726.25" stroke="#111" stroke-width="1.6" />
<text x="61.10" y="729.75" font-size="10.8" text-anchor="end" font-weight="normal" fill="#333" >1</text>
<line x1="66.20" y1="697.90" x2="71.00" y2="697.90" stroke="#111" stroke-width="1.6" />
<text x="61.10" y="701.40" font-size="10.8" text-anchor="end" font-weight="normal" fill="#333" >2</text>
<line x1="66.20" y1="669.55" x2="71.00" y2="669.55" stroke="#111" stroke-width="1.6" />
<text x="61.10" y="673.05" font-size="10.8" text-anchor="end" font-weight="normal" fill="#333" >3</text>
<line x1="66.20" y1="641.20" x2="71.00" y2="641.20" stroke="#111" stroke-width="1.6" />
<text x="61.10" y="644.70" font-size="10.8" text-anchor="end" font-weight="normal" fill="#333" >4</text>
<line x1="70.00" y1="754.60" x2="241.00" y2="754.60" stroke="#111" stroke-width="2" />
<line x1="113.00" y1="754.60" x2="113.00" y2="759.20" stroke="#111" stroke-width="1.6" />
<line x1="198.20" y1="754.60" x2="198.20" y2="759.20" stroke="#111" stroke-width="1.6" />
<text x="113.00" y="774.80" font-size="12" text-anchor="middle" font-weight="normal" fill="#222" >M</text>
<text x="198.20" y="774.80" font-size="12" text-anchor="middle" font-weight="normal" fill="#222" >H</text>
<text x="156.00" y="622.70" font-size="10.9" text-anchor="middle" font-weight="normal" fill="#222" >anti-NP IgM</text>
<line x1="113.10" y1="637.90" x2="199.00" y2="637.90" stroke="#111" stroke-width="2" />
<polygon points="156.05,630.30 156.81,631.95 158.62,632.17 157.28,633.40 157.64,635.18 156.05,634.30 154.46,635.18 154.82,633.40 153.48,632.17 155.29,631.95" fill="#222"/>
<text x="0" y="0" font-size="12.3" text-anchor="middle" fill="#222" stroke="#222" stroke-width="0.3" textLength="42" lengthAdjust="spacingAndGlyphs" transform="translate(45.90,696.60) rotate(-90)">OD (450)</text>
<line x1="82.80" y1="690.70" x2="143.20" y2="690.70" stroke="#111" stroke-width="2" />
<line x1="98.00" y1="683.80" x2="128.00" y2="683.80" stroke="#111" stroke-width="1.8" />
<line x1="98.00" y1="697.90" x2="128.00" y2="697.90" stroke="#111" stroke-width="1.8" />
<line x1="113.00" y1="683.80" x2="113.00" y2="697.90" stroke="#111" stroke-width="1.8" />
<line x1="168.00" y1="713.10" x2="228.40" y2="713.10" stroke="#111" stroke-width="2" />
<line x1="183.20" y1="706.60" x2="213.20" y2="706.60" stroke="#111" stroke-width="1.8" />
<line x1="183.20" y1="719.50" x2="213.20" y2="719.50" stroke="#111" stroke-width="1.8" />
<line x1="198.20" y1="706.60" x2="198.20" y2="719.50" stroke="#111" stroke-width="1.8" />
<rect x="99.90" y="645.10" width="6.40" height="6.40" fill="#fff" fill-opacity="0" stroke="#8E1B3E" stroke-width="1.7"/>
<rect x="109.90" y="653.70" width="6.40" height="6.40" fill="#fff" fill-opacity="0" stroke="#8E1B3E" stroke-width="1.7"/>
<rect x="99.90" y="659.10" width="6.40" height="6.40" fill="#fff" fill-opacity="0" stroke="#8E1B3E" stroke-width="1.7"/>
<rect x="109.90" y="664.30" width="6.40" height="6.40" fill="#fff" fill-opacity="0" stroke="#8E1B3E" stroke-width="1.7"/>
<rect x="120.10" y="664.30" width="6.40" height="6.40" fill="#fff" fill-opacity="0" stroke="#8E1B3E" stroke-width="1.7"/>
<rect x="99.80" y="677.00" width="6.40" height="6.40" fill="#fff" fill-opacity="0" stroke="#8E1B3E" stroke-width="1.7"/>
<rect x="109.80" y="678.40" width="6.40" height="6.40" fill="#fff" fill-opacity="0" stroke="#8E1B3E" stroke-width="1.7"/>
<rect x="109.80" y="699.60" width="6.40" height="6.40" fill="#fff" fill-opacity="0" stroke="#8E1B3E" stroke-width="1.7"/>
<rect x="120.40" y="696.40" width="6.40" height="6.40" fill="#fff" fill-opacity="0" stroke="#8E1B3E" stroke-width="1.7"/>
<rect x="89.30" y="709.50" width="6.40" height="6.40" fill="#fff" fill-opacity="0" stroke="#8E1B3E" stroke-width="1.7"/>
<rect x="120.40" y="711.90" width="6.40" height="6.40" fill="#fff" fill-opacity="0" stroke="#8E1B3E" stroke-width="1.7"/>
<rect x="99.80" y="718.00" width="6.40" height="6.40" fill="#fff" fill-opacity="0" stroke="#8E1B3E" stroke-width="1.7"/>
<rect x="109.80" y="718.60" width="6.40" height="6.40" fill="#fff" fill-opacity="0" stroke="#8E1B3E" stroke-width="1.7"/>
<rect x="109.80" y="729.20" width="6.40" height="6.40" fill="#fff" fill-opacity="0" stroke="#8E1B3E" stroke-width="1.7"/>
<rect x="194.85" y="669.45" width="6.70" height="6.70" fill="#2D4A88"/>
<rect x="194.85" y="680.25" width="6.70" height="6.70" fill="#2D4A88"/>
<rect x="205.15" y="687.85" width="6.70" height="6.70" fill="#2D4A88"/>
<rect x="194.85" y="690.95" width="6.70" height="6.70" fill="#2D4A88"/>
<rect x="184.35" y="698.85" width="6.70" height="6.70" fill="#2D4A88"/>
<rect x="194.85" y="701.05" width="6.70" height="6.70" fill="#2D4A88"/>
<rect x="184.35" y="714.35" width="6.70" height="6.70" fill="#2D4A88"/>
<rect x="194.85" y="720.95" width="6.70" height="6.70" fill="#2D4A88"/>
<rect x="205.15" y="717.65" width="6.70" height="6.70" fill="#2D4A88"/>
<rect x="184.35" y="731.45" width="6.70" height="6.70" fill="#2D4A88"/>
<rect x="194.85" y="732.35" width="6.70" height="6.70" fill="#2D4A88"/>
<rect x="205.15" y="737.55" width="6.70" height="6.70" fill="#2D4A88"/>
<rect x="194.85" y="744.35" width="6.70" height="6.70" fill="#2D4A88"/>
<line x1="323.00" y1="636.90" x2="323.00" y2="755.60" stroke="#111" stroke-width="2" />
<line x1="318.20" y1="754.60" x2="323.00" y2="754.60" stroke="#111" stroke-width="1.6" />
<text x="313.80" y="758.10" font-size="10.8" text-anchor="end" font-weight="normal" fill="#333" >0</text>
<line x1="318.20" y1="726.25" x2="323.00" y2="726.25" stroke="#111" stroke-width="1.6" />
<text x="313.80" y="729.75" font-size="10.8" text-anchor="end" font-weight="normal" fill="#333" >1</text>
<line x1="318.20" y1="697.90" x2="323.00" y2="697.90" stroke="#111" stroke-width="1.6" />
<text x="313.80" y="701.40" font-size="10.8" text-anchor="end" font-weight="normal" fill="#333" >2</text>
<line x1="318.20" y1="669.55" x2="323.00" y2="669.55" stroke="#111" stroke-width="1.6" />
<text x="313.80" y="673.05" font-size="10.8" text-anchor="end" font-weight="normal" fill="#333" >3</text>
<line x1="318.20" y1="641.20" x2="323.00" y2="641.20" stroke="#111" stroke-width="1.6" />
<text x="313.80" y="644.70" font-size="10.8" text-anchor="end" font-weight="normal" fill="#333" >4</text>
<line x1="322.00" y1="754.60" x2="492.80" y2="754.60" stroke="#111" stroke-width="2" />
<line x1="365.70" y1="754.60" x2="365.70" y2="759.20" stroke="#111" stroke-width="1.6" />
<line x1="450.90" y1="754.60" x2="450.90" y2="759.20" stroke="#111" stroke-width="1.6" />
<text x="365.70" y="774.80" font-size="12" text-anchor="middle" font-weight="normal" fill="#222" >M</text>
<text x="450.90" y="774.80" font-size="12" text-anchor="middle" font-weight="normal" fill="#222" >H</text>
<text x="408.50" y="622.90" font-size="10.9" text-anchor="middle" font-weight="normal" fill="#222" >anti-NP IgG</text>
<line x1="366.20" y1="637.00" x2="451.00" y2="637.00" stroke="#111" stroke-width="2" />
<text x="408.50" y="633.60" font-size="10.5" text-anchor="middle" font-weight="normal" fill="#222" >ns</text>
<text x="0" y="0" font-size="12.3" text-anchor="middle" fill="#222" stroke="#222" stroke-width="0.3" textLength="42" lengthAdjust="spacingAndGlyphs" transform="translate(297.60,696.60) rotate(-90)">OD (450)</text>
<line x1="335.50" y1="705.80" x2="395.90" y2="705.80" stroke="#111" stroke-width="2" />
<line x1="350.70" y1="697.30" x2="380.70" y2="697.30" stroke="#111" stroke-width="1.8" />
<line x1="350.70" y1="713.50" x2="380.70" y2="713.50" stroke="#111" stroke-width="1.8" />
<line x1="365.70" y1="697.30" x2="365.70" y2="713.50" stroke="#111" stroke-width="1.8" />
<line x1="420.70" y1="720.40" x2="481.10" y2="720.40" stroke="#111" stroke-width="2" />
<line x1="435.90" y1="707.50" x2="465.90" y2="707.50" stroke="#111" stroke-width="1.8" />
<line x1="435.90" y1="733.50" x2="465.90" y2="733.50" stroke="#111" stroke-width="1.8" />
<line x1="450.90" y1="707.50" x2="450.90" y2="733.50" stroke="#111" stroke-width="1.8" />
<rect x="352.10" y="654.50" width="6.40" height="6.40" fill="#fff" fill-opacity="0" stroke="#8E1B3E" stroke-width="1.7"/>
<rect x="362.50" y="651.00" width="6.40" height="6.40" fill="#fff" fill-opacity="0" stroke="#8E1B3E" stroke-width="1.7"/>
<rect x="372.90" y="659.60" width="6.40" height="6.40" fill="#fff" fill-opacity="0" stroke="#8E1B3E" stroke-width="1.7"/>
<rect x="362.50" y="663.70" width="6.40" height="6.40" fill="#fff" fill-opacity="0" stroke="#8E1B3E" stroke-width="1.7"/>
<rect x="362.50" y="689.50" width="6.40" height="6.40" fill="#fff" fill-opacity="0" stroke="#8E1B3E" stroke-width="1.7"/>
<rect x="341.70" y="708.00" width="6.40" height="6.40" fill="#fff" fill-opacity="0" stroke="#8E1B3E" stroke-width="1.7"/>
<rect x="352.10" y="712.60" width="6.40" height="6.40" fill="#fff" fill-opacity="0" stroke="#8E1B3E" stroke-width="1.7"/>
<rect x="362.50" y="714.20" width="6.40" height="6.40" fill="#fff" fill-opacity="0" stroke="#8E1B3E" stroke-width="1.7"/>
<rect x="372.90" y="713.30" width="6.40" height="6.40" fill="#fff" fill-opacity="0" stroke="#8E1B3E" stroke-width="1.7"/>
<rect x="383.30" y="710.30" width="6.40" height="6.40" fill="#fff" fill-opacity="0" stroke="#8E1B3E" stroke-width="1.7"/>
<rect x="372.90" y="724.80" width="6.40" height="6.40" fill="#fff" fill-opacity="0" stroke="#8E1B3E" stroke-width="1.7"/>
<rect x="352.10" y="729.40" width="6.40" height="6.40" fill="#fff" fill-opacity="0" stroke="#8E1B3E" stroke-width="1.7"/>
<rect x="362.50" y="729.90" width="6.40" height="6.40" fill="#fff" fill-opacity="0" stroke="#8E1B3E" stroke-width="1.7"/>
<rect x="372.90" y="732.90" width="6.40" height="6.40" fill="#fff" fill-opacity="0" stroke="#8E1B3E" stroke-width="1.7"/>
<rect x="362.50" y="740.30" width="6.40" height="6.40" fill="#fff" fill-opacity="0" stroke="#8E1B3E" stroke-width="1.7"/>
<rect x="447.55" y="644.35" width="6.70" height="6.70" fill="#2D4A88"/>
<rect x="437.05" y="712.45" width="6.70" height="6.70" fill="#2D4A88"/>
<rect x="457.25" y="719.85" width="6.70" height="6.70" fill="#2D4A88"/>
<rect x="447.55" y="722.75" width="6.70" height="6.70" fill="#2D4A88"/>
<rect x="437.05" y="732.75" width="6.70" height="6.70" fill="#2D4A88"/>
<rect x="447.55" y="737.55" width="6.70" height="6.70" fill="#2D4A88"/>
<rect x="447.55" y="748.05" width="6.70" height="6.70" fill="#2D4A88"/>
</svg>
<div id="bd"></div>
</body></html>
